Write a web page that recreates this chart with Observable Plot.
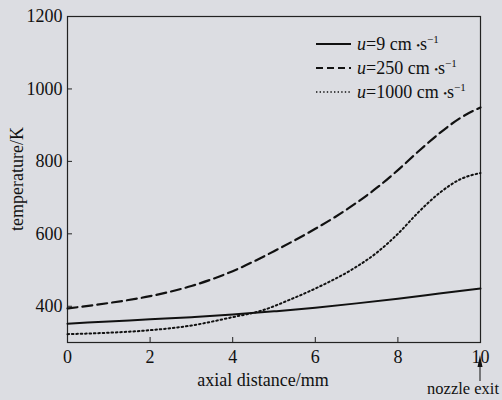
<!DOCTYPE html>
<html>
<head>
<meta charset="utf-8">
<script src="https://cdn.jsdelivr.net/npm/d3@7"></script>
<script src="https://cdn.jsdelivr.net/npm/@observablehq/plot@0.6"></script>
<style>
  html, body { margin: 0; padding: 0; background: #dcdde2; }
  #chart { width: 502px; height: 400px; }
  #chart svg text { font-family: "Liberation Serif", "Times New Roman", serif !important; }
</style>
</head>
<body>
<div id="chart"></div>
<script>
const FONT = "Liberation Serif";
const xTicks = [0, 2, 4, 6, 8, 10];
const yTicks = [400, 600, 800, 1000, 1200];

const seriesNames = ["u=9", "u=250", "u=1000"];
const legendSpeeds = ["9", "250", "1000"];

const solidX = [0, 1, 2, 3, 4, 5, 6, 7, 8, 9, 10];
const solidY = [352, 358, 364, 370, 377, 386, 396, 408, 421, 435, 449];

const dashedX = [0, 1, 2, 3, 4, 5, 6, 6.5, 7, 7.5, 8, 8.5, 9, 9.5, 10];
const dashedY = [394, 409, 428, 456, 497, 552, 614, 648, 686, 728, 776, 828, 877, 919, 949];

const dottedX = [0, 1, 2, 3, 4, 4.67, 5.4, 6.13, 6.85, 7.5, 8, 8.5, 9, 9.5, 10];
const dottedY = [323, 327, 334, 347, 370, 387, 419, 456, 499, 549, 600, 660, 712, 750, 768];

const toRows = (xs, ys, s) => xs.map((x, i) => ({x, y: ys[i], s}));
const solid = toRows(solidX, solidY, seriesNames[0]);
const dashed = toRows(dashedX, dashedY, seriesNames[1]);
const dotted = toRows(dottedX, dottedY, seriesNames[2]);

const plot = Plot.plot({
  width: 502,
  height: 400,
  marginLeft: 67,
  marginRight: 22,
  marginTop: 16,
  marginBottom: 58,
  style: {background: "transparent", color: "#111"},
  x: {domain: [0, 10]},
  y: {domain: [300, 1200]},
  marks: [
    Plot.frame({stroke: "#222", strokeWidth: 1.2}),
    Plot.axisX({ticks: xTicks, tickSize: -5, tickPadding: 13, label: null, tickFormat: d => String(d), fontSize: 18, fontFamily: FONT, stroke: "#222"}),
    Plot.axisY({ticks: yTicks, tickSize: -5, tickPadding: 10, label: null, tickFormat: d => String(d), fontSize: 18, fontFamily: FONT, stroke: "#222"}),
    Plot.line(solid, {x: "x", y: "y", stroke: "#111", strokeWidth: 2, curve: "monotone-x"}),
    Plot.line(dashed, {x: "x", y: "y", stroke: "#111", strokeWidth: 2.2, strokeDasharray: "10,5", curve: "monotone-x"}),
    Plot.line(dotted, {x: "x", y: "y", stroke: "#111", strokeWidth: 2, strokeDasharray: "1.6,2.8", curve: "monotone-x"})
  ]
});

document.getElementById("chart").appendChild(plot);

const svg = d3.select(plot);
const xs = plot.scale("x");

const addText = (x, y, anchor, str, size = 18) => svg.append("text")
  .attr("x", x).attr("y", y)
  .attr("text-anchor", anchor)
  .attr("font-family", FONT)
  .attr("font-size", size)
  .attr("fill", "#111")
  .text(str);

// axis titles
addText(263, 386, "middle", "axial distance/mm");
svg.append("text")
  .attr("transform", "translate(23," + ((16 + 342) / 2) + ") rotate(-90)")
  .attr("text-anchor", "middle")
  .attr("font-family", FONT)
  .attr("font-size", 18)
  .attr("fill", "#111")
  .text("temperature/K");

// nozzle exit annotation
const xe = xs.apply(10);
svg.append("line")
  .attr("x1", xe).attr("x2", xe)
  .attr("y1", 381).attr("y2", 362)
  .attr("stroke", "#111").attr("stroke-width", 1);
svg.append("path")
  .attr("d", `M${xe - 2.5},${367} L${xe},${355} L${xe + 2.5},${367} Z`)
  .attr("fill", "#111");
addText(499, 394, "end", "nozzle exit", 16.5);

// legend
const legendStyles = [
  {dash: null, w: 2},
  {dash: "7,4", w: 2.2},
  {dash: "1.4,2.2", w: 1.6}
];
legendSpeeds.forEach((v, i) => {
  const yy = 44 + i * 24;
  svg.append("line")
    .attr("x1", 316).attr("x2", 351)
    .attr("y1", yy).attr("y2", yy)
    .attr("stroke", "#111")
    .attr("stroke-width", legendStyles[i].w)
    .attr("stroke-dasharray", legendStyles[i].dash);
  const t = svg.append("text")
    .attr("x", 357).attr("y", yy + 6)
    .attr("text-anchor", "start")
    .attr("font-family", FONT)
    .attr("font-size", 18)
    .attr("fill", "#111");
  t.append("tspan").attr("font-style", "italic").text("u");
  t.append("tspan").text("=" + v + " cm ");
  t.append("tspan").attr("font-size", 11).attr("dy", -1).text("•");
  t.append("tspan").attr("dy", 1).text("s");
  t.append("tspan").attr("font-size", 11).attr("dy", -7).text("−1");
});
</script>
</body>
</html>
